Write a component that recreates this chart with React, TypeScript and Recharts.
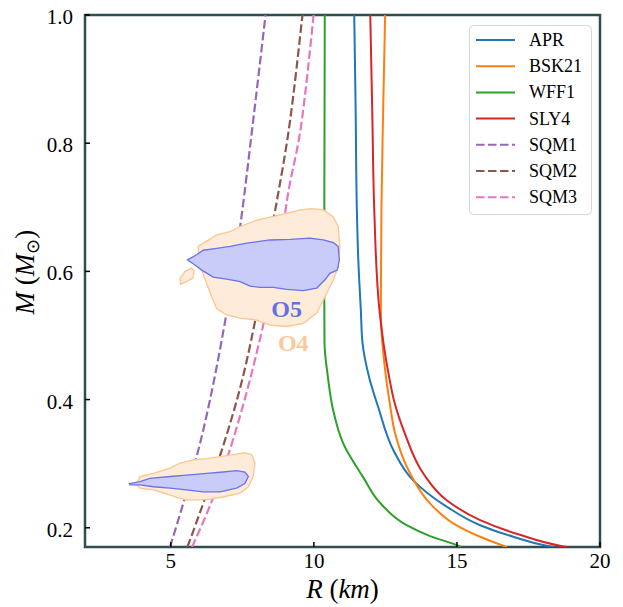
import React from 'react';
import { ComposedChart, Line, Scatter, XAxis, YAxis, ReferenceArea, Legend } from 'recharts';

type Pt = { R: number; M: number };
const pts = (a: number[][]): Pt[] => a.map(([R, M]) => ({ R, M }));

// Nucleonic EOS mass-radius curves: [R (km), M (Msun)]
const APR: number[][] = [[11.41, 1.0], [11.46, 0.85], [11.5, 0.7], [11.55, 0.62], [11.64, 0.54], [11.7, 0.488], [11.93, 0.435], [12.25, 0.388], [12.78, 0.321], [13.47, 0.274], [14.64, 0.233], [15.81, 0.204], [16.97, 0.186], [18.14, 0.172], [18.4, 0.17]];
const BSK21: number[][] = [[12.49, 1.0], [12.42, 0.85], [12.36, 0.696], [12.34, 0.54], [12.52, 0.435], [12.65, 0.395], [12.84, 0.347], [13.36, 0.285], [14.06, 0.238], [14.87, 0.207], [15.81, 0.186], [16.62, 0.172], [16.75, 0.17]];
const WFF1: number[][] = [[10.38, 1.0], [10.37, 0.8], [10.36, 0.6], [10.37, 0.49], [10.49, 0.435], [10.67, 0.384], [11.02, 0.332], [11.72, 0.279], [12.31, 0.239], [13.24, 0.204], [14.06, 0.187], [14.99, 0.173], [15.15, 0.17]];
const SLY4: number[][] = [[11.97, 1.0], [12.04, 0.85], [12.11, 0.696], [12.29, 0.54], [12.63, 0.435], [12.82, 0.395], [13.18, 0.347], [13.82, 0.285], [14.64, 0.243], [15.81, 0.212], [17.2, 0.189], [18.6, 0.172], [18.85, 0.17]];
// Strange quark matter curves
const SQM1: number[][] = [[4.97, 0.17], [5.57, 0.259], [6.05, 0.337], [6.65, 0.462], [7.14, 0.587], [7.42, 0.669], [7.88, 0.836], [8.31, 1.0]];
const SQM2: number[][] = [[5.58, 0.17], [6.3, 0.259], [6.86, 0.332], [7.66, 0.462], [8.22, 0.587], [8.54, 0.669], [8.71, 0.711], [9.17, 0.836], [9.6, 1.0]];
const SQM3: number[][] = [[5.74, 0.17], [6.58, 0.259], [7.17, 0.337], [7.94, 0.462], [8.57, 0.587], [8.92, 0.669], [9.06, 0.711], [9.58, 0.836], [9.99, 1.0]];

// Credible-region contours
const O4_UPPER: number[][] = [[5.96, 0.639], [6.6, 0.657], [7.07, 0.662], [7.42, 0.67], [8.0, 0.68], [8.82, 0.688], [9.51, 0.696], [9.92, 0.698], [10.33, 0.696], [10.68, 0.685], [10.85, 0.67], [10.91, 0.639], [10.85, 0.607], [10.68, 0.587], [10.45, 0.566], [10.1, 0.535], [9.63, 0.519], [9.05, 0.514], [8.47, 0.516], [8.0, 0.524], [7.42, 0.527], [6.95, 0.532], [6.6, 0.542], [6.43, 0.56], [6.25, 0.581], [6.08, 0.602], [5.96, 0.623]];
const O4_ISLAND: number[][] = [[5.32, 0.589], [5.5, 0.6], [5.73, 0.605], [5.82, 0.6], [5.76, 0.589], [5.55, 0.584], [5.34, 0.58]];
const O5_UPPER: number[][] = [[5.58, 0.618], [5.9, 0.626], [6.13, 0.633], [6.6, 0.636], [7.07, 0.639], [7.65, 0.644], [8.47, 0.649], [9.17, 0.65], [9.86, 0.652], [10.33, 0.649], [10.68, 0.645], [10.85, 0.639], [10.89, 0.618], [10.82, 0.602], [10.56, 0.597], [10.39, 0.587], [10.1, 0.574], [9.63, 0.57], [9.05, 0.572], [8.58, 0.575], [8.12, 0.575], [7.77, 0.577], [7.42, 0.584], [6.95, 0.588], [6.48, 0.591], [6.08, 0.602], [5.84, 0.61]];
const O4_LOWER: number[][] = [[3.81, 0.267], [3.92, 0.28], [4.39, 0.285], [4.97, 0.293], [5.32, 0.301], [5.79, 0.306], [6.25, 0.308], [6.72, 0.311], [7.18, 0.314], [7.59, 0.317], [7.83, 0.314], [7.94, 0.301], [7.88, 0.28], [7.71, 0.264], [7.42, 0.254], [6.83, 0.248], [6.25, 0.244], [5.55, 0.243], [4.97, 0.251], [4.39, 0.259], [3.92, 0.262]];
const O5_LOWER: number[][] = [[3.55, 0.269], [3.92, 0.272], [4.27, 0.277], [4.97, 0.28], [5.55, 0.282], [6.25, 0.285], [6.83, 0.287], [7.3, 0.289], [7.59, 0.287], [7.71, 0.28], [7.59, 0.269], [7.3, 0.262], [6.72, 0.256], [6.13, 0.256], [5.55, 0.259], [4.97, 0.262], [4.39, 0.264], [3.92, 0.267], [3.57, 0.267]];

const O5_LABEL: number[][] = [[9.05, 0.542]];
const O4_LABEL: number[][] = [[9.28, 0.488]];

const X_TICKS = [5, 10, 15, 20];
const Y_TICKS = [0.2, 0.4, 0.6, 0.8, 1.0];
const X_DOMAIN: [number, number] = [2, 20];
const Y_DOMAIN: [number, number] = [0.17, 1.0];

const SERIES_NAMES = ['APR', 'BSK21', 'WFF1', 'SLY4', 'SQM1', 'SQM2', 'SQM3'];
const SERIES_DATA = [APR, BSK21, WFF1, SLY4, SQM1, SQM2, SQM3];

const COLORS = ['#1f77b4', '#ff7f0e', '#2ca02c', '#d62728', '#9467bd', '#8c564b', '#e377c2'];
const DASHED = [false, false, false, false, true, true, true];
const DASH = '8.5 3.5';

const FONT = 'Liberation Serif';
const FRAME = '#2f4f4f';
const O4_FILL = '#feebd9';
const O4_STROKE = '#fdc690';
const O5_FILL = '#c9ccf8';
const O5_STROKE = '#6a72ee';

const XTick = (props: any) => {
  const { x, y, payload } = props;
  return (
    <g>
      <line x1={x} x2={x} y1={y} y2={y - 5} stroke="#000" strokeWidth={1.5} />
      <text x={x} y={y + 21} textAnchor="middle" style={{ fontFamily: FONT }} fontSize={21} fill="#000">
        {String(payload.value)}
      </text>
    </g>
  );
};

const YTick = (props: any) => {
  const { x, y, payload } = props;
  return (
    <g>
      <line x1={x} x2={x + 5} y1={y} y2={y} stroke="#000" strokeWidth={1.5} />
      <text x={x - 12} y={y + 9} textAnchor="end" style={{ fontFamily: FONT }} fontSize={21} fill="#000">
        {Number(payload.value).toFixed(1)}
      </text>
    </g>
  );
};

const XLabel = (props: any) => {
  const vb = props.viewBox || { x: 85, y: 547, width: 515, height: 60 };
  const cx = vb.x + vb.width / 2;
  const by = vb.y + 51;
  return (
    <text x={cx} y={by} textAnchor="middle" style={{ fontFamily: FONT }} fontSize={27} fill="#000">
      <tspan fontStyle="italic">R</tspan>
      <tspan> (</tspan>
      <tspan fontStyle="italic">km</tspan>
      <tspan>)</tspan>
    </text>
  );
};

const YLabel = (props: any) => {
  const vb = props.viewBox || { x: 0, y: 15, width: 85, height: 532 };
  const cy = vb.y + vb.height / 2 - 9;
  const bx = vb.x + 34;
  return (
    <text
      x={bx}
      y={cy}
      transform={`rotate(-90, ${bx}, ${cy})`}
      textAnchor="middle"
      style={{ fontFamily: FONT }}
      fontSize={27}
      fill="#000"
    >
      <tspan fontStyle="italic">M</tspan>
      <tspan> (</tspan>
      <tspan fontStyle="italic">M</tspan>
      <tspan dy={5} fontSize={18}>⊙</tspan>
      <tspan dy={-5}>)</tspan>
    </text>
  );
};

const LegendBox = () => (
  <svg width={124} height={191} style={{ display: 'block' }}>
    <rect x={0.5} y={0.5} width={122} height={189} rx={4} ry={4} fill="rgba(255,255,255,0.8)" stroke="#d6d6d6" strokeWidth={1} />
    {SERIES_NAMES.map((name, i) => {
      const cy = 15 + i * 26.2;
      return (
        <g key={name}>
          <line x1={7} x2={46} y1={cy} y2={cy} stroke={COLORS[i]} strokeWidth={2} strokeDasharray={DASHED[i] ? DASH : undefined} />
          <text x={60} y={cy + 6} style={{ fontFamily: FONT }} fontSize={18} fill="#000">
            {name}
          </text>
        </g>
      );
    })}
  </svg>
);

const hidden = () => <g />;

const blob = (key: string, data: number[][], fill: string, stroke: string) => (
  <Scatter
    key={key}
    name={key}
    data={pts(data)}
    dataKey="M"
    fill={fill}
    line={{ fill, stroke, strokeWidth: 1.3 }}
    lineType="joint"
    lineJointType="linearClosed"
    shape={hidden}
    legendType="none"
    isAnimationActive={false}
  />
);

const textMark = (key: string, data: number[][], label: string, color: string) => (
  <Scatter
    key={key}
    name={key}
    data={pts(data)}
    dataKey="M"
    fill={color}
    legendType="none"
    isAnimationActive={false}
    shape={(p: any) => (
      <text
        x={p.cx}
        y={p.cy}
        textAnchor="middle"
        dominantBaseline="central"
        style={{ fontFamily: FONT }}
        fontWeight="bold"
        fontSize={24}
        fill={color}
      >
        {label}
      </text>
    )}
  />
);

export default function App() {
  return (
    <div style={{ position: 'absolute', left: 0, top: 0, width: 623, height: 607, background: '#fff' }}>
      <ComposedChart width={623} height={607} margin={{ top: 15, right: 23, bottom: 0, left: 0 }}>
        <XAxis
          type="number"
          dataKey="R"
          domain={X_DOMAIN}
          allowDataOverflow
          ticks={X_TICKS}
          interval={0}
          axisLine={false}
          tickLine={false}
          tickSize={0}
          tickMargin={0}
          height={60}
          tick={<XTick />}
          label={{ content: (p: any) => <XLabel {...p} /> }}
        />
        <YAxis
          type="number"
          dataKey="M"
          domain={Y_DOMAIN}
          allowDataOverflow
          ticks={Y_TICKS}
          interval={0}
          axisLine={false}
          tickLine={false}
          tickSize={0}
          tickMargin={0}
          width={85}
          tick={<YTick />}
          label={{ content: (p: any) => <YLabel {...p} /> }}
        />
        {blob('O4_UPPER', O4_UPPER, O4_FILL, O4_STROKE)}
        {blob('O4_ISLAND', O4_ISLAND, O4_FILL, O4_STROKE)}
        {blob('O4_LOWER', O4_LOWER, O4_FILL, O4_STROKE)}
        {blob('O5_UPPER', O5_UPPER, O5_FILL, O5_STROKE)}
        {blob('O5_LOWER', O5_LOWER, O5_FILL, O5_STROKE)}
        {textMark('O5_TEXT', O5_LABEL, 'O5', '#6272e6')}
        {textMark('O4_TEXT', O4_LABEL, 'O4', '#fdc898')}
        {SERIES_NAMES.map((name, i) => (
          <Line
            key={name}
            name={name}
            data={pts(SERIES_DATA[i])}
            dataKey="M"
            type={DASHED[i] ? 'monotoneX' : 'monotoneY'}
            stroke={COLORS[i]}
            strokeWidth={DASHED[i] ? 2.2 : 2}
            strokeDasharray={DASHED[i] ? DASH : undefined}
            dot={false}
            activeDot={false}
            isAnimationActive={false}
          />
        ))}
        <ReferenceArea
          x1={X_DOMAIN[0]}
          x2={X_DOMAIN[1]}
          y1={Y_DOMAIN[0]}
          y2={Y_DOMAIN[1]}
          fill="none"
          fillOpacity={0}
          stroke={FRAME}
          strokeWidth={2.5}
          strokeOpacity={1}
        />
        <Legend
          layout="vertical"
          align="center"
          verticalAlign="middle"
          content={() => <LegendBox />}
          wrapperStyle={{ left: 469, top: 25, width: 124, height: 191 }}
        />
      </ComposedChart>
    </div>
  );
}
